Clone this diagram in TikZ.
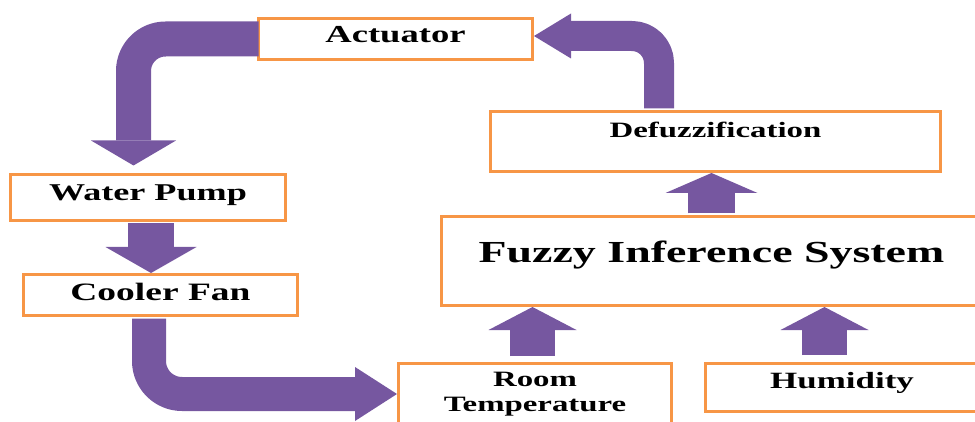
\documentclass[tikz,border=0pt]{standalone}
\usepackage{fontspec}
\usepackage{xcolor}
\usepackage{tikz}
\usetikzlibrary{arrows.meta, positioning, calc}
\newfontfamily\boxfont[FakeStretch=1.5]{Liberation Serif}
\definecolor{boxorange}{HTML}{F79646}
\definecolor{flowpurple}{RGB}{118, 87, 160}

\begin{document}
\begin{tikzpicture}[x=1pt, y=1pt,
    box/.style={draw=boxorange, line width=3pt, fill=white, inner sep=0pt,
                font=\boxfont\bfseries\fontsize{#1pt}{25pt}\selectfont},
    flow/.style={draw=flowpurple, line cap=butt, line join=round}]
    \clip (0,0) rectangle (975,421);

    % 方框
    \node[box=24.4, minimum width=274pt, minimum height=41pt, text height=16pt, text depth=8pt] (act) at (395.5,382) {Actuator};
    \node[box=24.1, minimum width=275pt, minimum height=46pt, text height=16pt, text depth=9pt] (pump) at (148,223.5) {Water Pump};
    \node[box=25, minimum width=274pt, minimum height=41pt, text height=16pt, text depth=6pt] (fan) at (160.5,126) {Cooler Fan};
    \node[box=21.9, minimum width=273pt, minimum height=61pt, align=center] (room) at (535,27) {Room\\Temperature};
    \node[box=23.3, minimum width=274pt, minimum height=48pt, text height=15pt, text depth=13pt] (hum) at (842,33.5) {Humidity};
    \node[box=30.6, minimum width=540pt, minimum height=89pt, text height=20pt, text depth=18pt] (fis) at (711.5,160) {Fuzzy Inference System};
    \node[box=21.9, minimum width=450pt, minimum height=60pt, text height=14pt, text depth=21pt] (defuzz) at (715.5,279.5) {Defuzzification};

    % 箭头
    \draw[flow, line width=35pt, rounded corners=32pt, -{Triangle[length=25pt, width=85pt, line width=0pt]}]
        ([xshift=1.5pt]act.west) -| ([xshift=-14.5pt, yshift=7.5pt]pump.north);
    \draw[flow, line width=46pt, -{Triangle[length=26pt, width=91pt, line width=0pt]}]
        ([xshift=3pt, yshift=-1.5pt]pump.south) -- ([xshift=3pt]pump.south |- fan.north);
    \draw[flow, line width=34pt, rounded corners=33pt, -{Triangle[length=42pt, width=54pt, line width=0pt]}]
        ([xshift=-11.5pt, yshift=-1.5pt]fan.south) |- (room.west);
    \draw[flow, line width=45pt, shorten <=6pt, -{Triangle[length=23pt, width=88pt, line width=0pt]}]
        ([xshift=-2.5pt]room.north) -- ([xshift=-2.5pt]room.north |- fis.south);
    \draw[flow, line width=45pt, shorten <=7pt, -{Triangle[length=23pt, width=88pt, line width=0pt]}]
        ([xshift=121pt]hum.north west) -- ([xshift=121pt]hum.north west |- fis.south);
    \draw[flow, line width=47pt, -{Triangle[length=20pt, width=92pt, line width=0pt]}]
        ([xshift=-4pt, yshift=1.5pt]defuzz.south |- fis.north) -- ([xshift=-4pt]defuzz.south);
    \draw[flow, line width=30pt, rounded corners=27pt, -{Triangle[length=37pt, width=45pt, line width=0pt]}]
        ([xshift=-56.5pt, yshift=1.5pt]defuzz.north) |- ([yshift=3pt]act.east);
\end{tikzpicture}
\end{document}
